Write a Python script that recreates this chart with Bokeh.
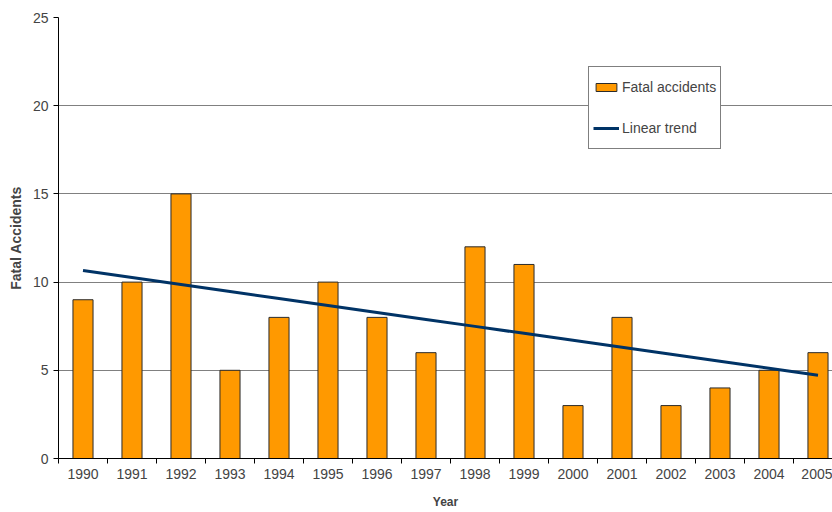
import numpy as np
from bokeh.plotting import figure
from bokeh.models import FixedTicker, Legend, LegendItem, ColumnDataSource
from bokeh.embed import file_html
from bokeh.resources import INLINE

years = [1990, 1991, 1992, 1993, 1994, 1995, 1996, 1997,
         1998, 1999, 2000, 2001, 2002, 2003, 2004, 2005]
fatal = [9, 10, 15, 5, 8, 10, 8, 6, 12, 11, 3, 8, 3, 4, 5, 6]
y_ticks = [0, 5, 10, 15, 20, 25]

# linear trend fitted from the data
coef = np.polyfit(years, fatal, 1)
trend = list(np.polyval(coef, years))

FONT = "Liberation Sans"

p = figure(width=832, height=512, output_backend="svg", toolbar_location=None,
           x_range=(1989.5, 2005.296), y_range=(0, 25),
           min_border_left=58, min_border_right=0, min_border_top=17,
           min_border_bottom=54)
p.outline_line_color = None
p.background_fill_color = "white"

src = ColumnDataSource(dict(x=years, y=fatal))
bars = p.vbar(x="x", top="y", width=0.41, source=src, fill_color="#FF9900",
              line_color="#2b2b2b", line_width=1)
line = p.line(years, trend, line_color="#003366", line_width=3)

# x axis
p.xaxis.ticker = FixedTicker(ticks=years, minor_ticks=[y - 0.5 for y in years] + [2005.5])
p.xaxis.major_tick_line_color = None
p.xaxis.minor_tick_out = 5
p.xaxis.minor_tick_in = 0
p.xaxis.minor_tick_line_color = "black"
p.xaxis.axis_line_color = "black"
p.xaxis.major_label_text_font = FONT
p.xaxis.major_label_text_font_size = "14px"
p.xaxis.major_label_standoff = 4
p.xaxis.axis_label = "Year"
p.xaxis.axis_label_text_font = FONT
p.xaxis.axis_label_text_font_size = "12px"
p.xaxis.axis_label_text_font_style = "bold"
p.xaxis.axis_label_standoff = 13
p.xgrid.grid_line_color = None

# y axis
p.yaxis.ticker = FixedTicker(ticks=y_ticks)
p.yaxis.minor_tick_line_color = None
p.yaxis.major_tick_out = 5
p.yaxis.major_tick_in = 0
p.yaxis.axis_line_color = "black"
p.yaxis.major_label_text_font = FONT
p.yaxis.major_label_text_font_size = "14px"
p.yaxis.major_label_standoff = 5
p.yaxis.axis_label = "Fatal Accidents"
p.yaxis.axis_label_text_font = FONT
p.yaxis.axis_label_text_font_size = "14px"
p.yaxis.axis_label_text_font_style = "bold"
p.yaxis.axis_label_standoff = 6
p.ygrid.grid_line_color = "#808080"
p.ygrid.grid_line_width = 1

legend = Legend(items=[LegendItem(label="Fatal accidents", renderers=[bars]),
                       LegendItem(label="Linear trend", renderers=[line])],
                location=(530, 309), orientation="vertical",
                border_line_color="black", border_line_width=1,
                background_fill_color="white", background_fill_alpha=1,
                padding=4, margin=0, spacing=9,
                glyph_width=26, glyph_height=10, label_height=32,
                label_standoff=3,
                label_text_font=FONT, label_text_font_size="14px")
p.add_layout(legend, "center")

open("out.html", "w").write(file_html(p, INLINE))
